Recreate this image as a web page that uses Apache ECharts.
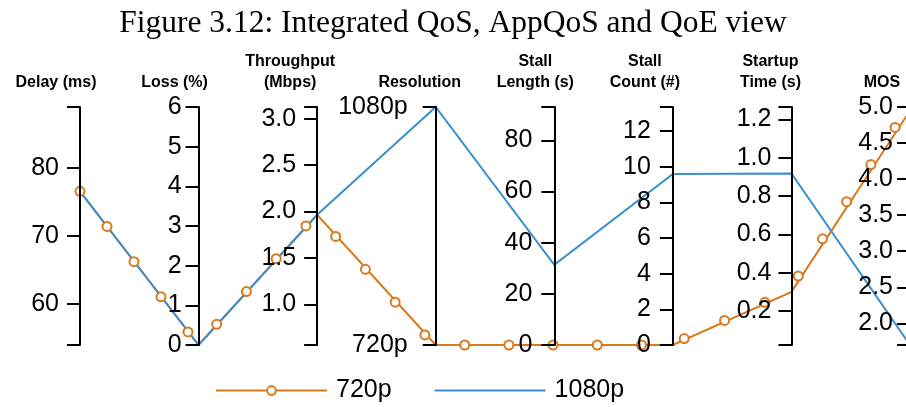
<!DOCTYPE html>
<html>
<head>
<meta charset="utf-8">
<script src="https://cdn.jsdelivr.net/npm/echarts@6/dist/echarts.min.js"></script>
<style>
  html, body { margin: 0; padding: 0; background: #fff; }
  #chart { width: 906px; height: 407px; }
</style>
</head>
<body>
<div id="chart"></div>
<script>
// ---- data ----
const dimensionNames = ['Delay (ms)', 'Loss (%)', 'Throughput\n(Mbps)', 'Resolution',
  'Stall\nLength (s)', 'Stall\nCount (#)', 'Startup\nTime (s)', 'MOS'];
const resolutions = ['720p', '1080p'];
const values720p  = [76.6, 0, 1.965, '720p', 0, 0, 0.30, 4.95];
const values1080p = [76.6, 0, 1.965, '1080p', 31.3, 9.6, 0.917, 1.70];
const axisMin = [54, 0, 0.563, null, 0, 0, 0.023, 1.70];
const axisMax = [89, 6, 3.125, null, 93, 13.36, 1.264, 5.0];
const tickLabels = [
  [60, 70, 80],
  [0, 1, 2, 3, 4, 5, 6],
  [1.0, 1.5, 2.0, 2.5, 3.0],
  null,
  [0, 20, 40, 60, 80],
  [0, 2, 4, 6, 8, 10, 12],
  [0.2, 0.4, 0.6, 0.8, 1.0, 1.2],
  [2.0, 2.5, 3.0, 3.5, 4.0, 4.5, 5.0]
];
const labelDecimals = [0, 0, 1, 0, 0, 0, 1, 1];

// ---- layout & style ----
const PLOT = { left: 80, top: 107, width: 830, height: 238 };
const nameShift = [24, 24, 27, 16, 19, 28, 21, 28];     // name centre sits left of the axis
const labelMargin = [21, 17, 21, 28, 22, 22, 20, 17];   // gap between axis line and label
const ORANGE = '#D87A1C';
const BLUE = '#3B8FCC';
const FONT = '"Liberation Sans", Arial, Helvetica, sans-serif';
const MARKER_SPACING = 44.4;   // px of path length between 720p markers

const parallelAxis = dimensionNames.map((name, i) => {
  const ax = {
    dim: i,
    name: name,
    nameTextStyle: { padding: [0, nameShift[i] * 2, 0, 0] },
    axisLabel: { margin: -labelMargin[i] }
  };
  if (tickLabels[i] === null) {
    ax.type = 'category';
    ax.data = resolutions;
    ax.boundaryGap = false;
  } else {
    ax.type = 'value';
    ax.min = axisMin[i];
    ax.max = axisMax[i];
    const ticks = tickLabels[i].slice();
    if (ticks.indexOf(axisMin[i]) < 0) ticks.unshift(axisMin[i]);
    if (ticks.indexOf(axisMax[i]) < 0) ticks.push(axisMax[i]);
    ax.axisTick = { customValues: ticks };
    const dec = labelDecimals[i];
    ax.axisLabel.customValues = tickLabels[i];
    ax.axisLabel.formatter = v => Number(v).toFixed(dec);
  }
  return ax;
});

// position of a value along its axis, 0 = bottom, 1 = top
function normalized(i, v) {
  if (tickLabels[i] === null) return resolutions.indexOf(v) / (resolutions.length - 1);
  return (v - axisMin[i]) / (axisMax[i] - axisMin[i]);
}

// open-circle markers placed at an even path-length spacing along the polyline
function markersAlong(values) {
  const n = values.map((v, i) => normalized(i, v));
  const step = PLOT.width / (values.length - 1);
  const px = n.map((t, i) => [i * step, (1 - t) * PLOT.height]);
  const out = [];
  let next = 0, acc = 0;
  for (let i = 0; i < px.length - 1; i++) {
    const len = Math.hypot(px[i + 1][0] - px[i][0], px[i + 1][1] - px[i][1]);
    while (next <= acc + len + 1e-6) {
      const f = (next - acc) / len;
      out.push([i + f, n[i] + (n[i + 1] - n[i]) * f]);
      next += MARKER_SPACING;
    }
    acc += len;
  }
  return out;
}

const chart = echarts.init(document.getElementById('chart'), null, { renderer: 'canvas' });
chart.setOption({
  animation: false,
  backgroundColor: '#fff',
  title: {
    text: 'Figure 3.12: Integrated QoS, AppQoS and QoE view',
    left: 'center',
    top: 3,
    textStyle: { fontFamily: '"Liberation Serif", "Times New Roman", serif', fontWeight: 'normal', fontSize: 31.5, color: '#000' }
  },
  legend: {
    left: 210,
    top: 373,
    itemWidth: 111,
    itemHeight: 11,
    itemGap: 42,
    selectedMode: false,
    textStyle: { fontFamily: FONT, fontSize: 25, color: '#000', padding: [0, 0, 0, 4] },
    data: [
      { name: '720p', lineStyle: { color: ORANGE, width: 2, opacity: 1 } },
      { name: '1080p', itemStyle: { opacity: 0 }, lineStyle: { color: BLUE, width: 2, opacity: 1 } }
    ]
  },
  parallel: Object.assign({}, PLOT, {
    parallelAxisDefault: {
      nameLocation: 'end',
      nameGap: 14,
      nameTextStyle: { fontFamily: FONT, fontWeight: 'bold', fontSize: 16, lineHeight: 21, color: '#000' },
      axisLine: { lineStyle: { color: '#000', width: 2 } },
      // ticks and labels sit on the left-hand side of each axis
      axisTick: { show: true, length: -13, lineStyle: { color: '#000', width: 2 } },
      axisLabel: { align: 'right', fontFamily: FONT, fontSize: 25, color: '#000' },
      splitLine: { show: false }
    }
  }),
  parallelAxis: parallelAxis,
  grid: Object.assign({}, PLOT, { show: false }),
  xAxis: { type: 'value', min: 0, max: dimensionNames.length - 1, show: false },
  yAxis: { type: 'value', min: 0, max: 1, show: false },
  series: [
    {
      name: 'pc720', type: 'parallel', z: 1,
      lineStyle: { color: ORANGE, width: 2, opacity: 1 },
      data: [values720p]
    },
    {
      name: 'pc1080', type: 'parallel', z: 2,
      lineStyle: { color: BLUE, width: 2, opacity: 1 },
      data: [values1080p]
    },
    {
      name: '720p', type: 'line', z: 3, clip: false,
      symbol: 'emptyCircle', symbolSize: 9, showAllSymbol: true,
      itemStyle: { color: ORANGE, borderWidth: 2 },
      lineStyle: { width: 0, color: ORANGE },
      data: markersAlong(values720p)
    },
    {
      name: '1080p', type: 'line', symbol: 'none',
      lineStyle: { width: 2, color: BLUE },
      data: []
    }
  ]
});
</script>
</body>
</html>
